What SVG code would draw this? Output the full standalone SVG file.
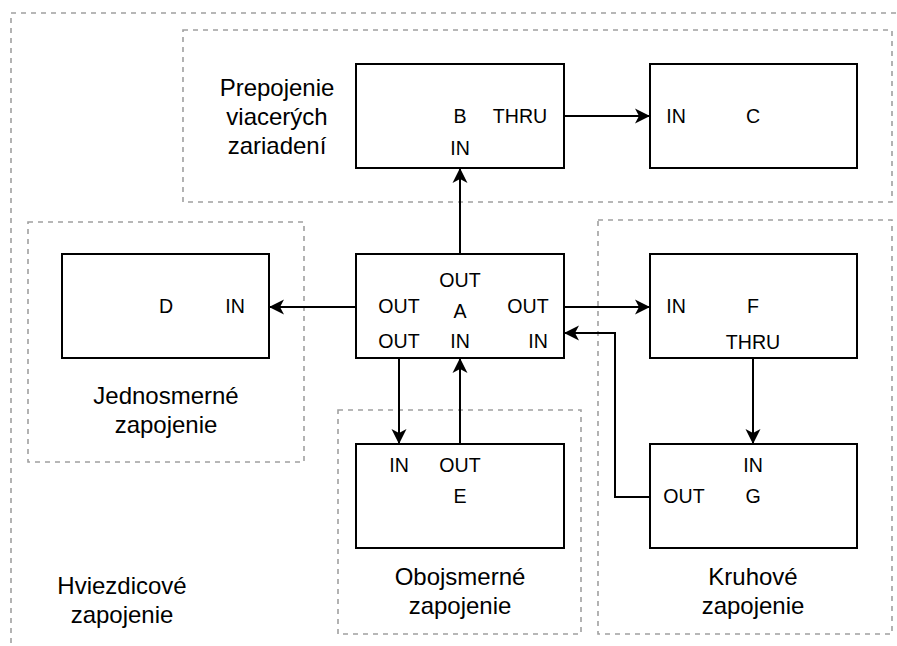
<svg xmlns="http://www.w3.org/2000/svg" width="897" height="646" viewBox="0 0 897 646">
<style>
.grp{fill:none;stroke:#a0a0a0;stroke-width:1.6;stroke-dasharray:5 5}
.node{fill:#fff;stroke:#000;stroke-width:2}
.t{font-family:"Liberation Sans",Arial,sans-serif;font-size:19.6px;fill:#000;text-anchor:middle}
.g{font-family:"Liberation Sans",Arial,sans-serif;font-size:24px;fill:#000;text-anchor:middle}
.c{fill:none;stroke:#000;stroke-width:2}
</style>
<defs>
<marker id="arr" markerUnits="userSpaceOnUse" markerWidth="16" markerHeight="16" viewBox="0 0 16 16" refX="15" refY="8" orient="auto">
<path d="M0,0.5 L15,8 L0,15.5 L4,8 Z" fill="#000"/>
</marker>
</defs>
<rect width="897" height="646" fill="#fff"/>
<g id="groups">
<rect id="grp-star" class="grp" x="11" y="13" width="900" height="650"/>
<rect id="grp-multi" class="grp" x="183" y="30" width="709" height="172"/>
<rect id="grp-uni" class="grp" x="28" y="222" width="276" height="240"/>
<rect id="grp-bi" class="grp" x="338" y="410" width="243" height="224"/>
<rect id="grp-ring" class="grp" x="598" y="220" width="294" height="414"/>
</g>
<g id="group-labels">
<text class="g" x="277" y="96">Prepojenie</text>
<text class="g" x="277" y="125">viacerých</text>
<text class="g" x="277" y="154">zariadení</text>
<text class="g" x="166" y="404">Jednosmerné</text>
<text class="g" x="166" y="433">zapojenie</text>
<text class="g" x="122" y="594">Hviezdicové</text>
<text class="g" x="122" y="623">zapojenie</text>
<text class="g" x="460" y="585">Obojsmerné</text>
<text class="g" x="460" y="614">zapojenie</text>
<text class="g" x="753" y="585">Kruhové</text>
<text class="g" x="753" y="614">zapojenie</text>
</g>
<g id="connectors">
<path class="c" d="M460,254 V168" marker-end="url(#arr)"/>
<path class="c" d="M564,116 H650" marker-end="url(#arr)"/>
<path class="c" d="M356,307 H269" marker-end="url(#arr)"/>
<path class="c" d="M564,307 H650" marker-end="url(#arr)"/>
<path class="c" d="M753,358 V444" marker-end="url(#arr)"/>
<path class="c" d="M650,497 H615 V333 H564" marker-end="url(#arr)"/>
<path class="c" d="M399,358 V444" marker-end="url(#arr)"/>
<path class="c" d="M460,444 V358" marker-end="url(#arr)"/>
</g>
<g id="node-B">
<rect class="node" x="356" y="64" width="208" height="104"/>
<text class="t" x="460" y="123">B</text>
<text class="t" x="520" y="123">THRU</text>
<text class="t" x="460" y="155">IN</text>
</g>
<g id="node-C">
<rect class="node" x="650" y="64" width="207" height="104"/>
<text class="t" x="676" y="123">IN</text>
<text class="t" x="753" y="123">C</text>
</g>
<g id="node-A">
<rect class="node" x="356" y="254" width="208" height="104"/>
<text class="t" x="460" y="287">OUT</text>
<text class="t" x="399" y="313">OUT</text>
<text class="t" x="460" y="318">A</text>
<text class="t" x="528" y="313">OUT</text>
<text class="t" x="399" y="348">OUT</text>
<text class="t" x="460" y="348">IN</text>
<text class="t" x="538" y="348">IN</text>
</g>
<g id="node-D">
<rect class="node" x="62" y="254" width="207" height="104"/>
<text class="t" x="166" y="313">D</text>
<text class="t" x="235" y="313">IN</text>
</g>
<g id="node-F">
<rect class="node" x="650" y="254" width="207" height="104"/>
<text class="t" x="676" y="313">IN</text>
<text class="t" x="753" y="313">F</text>
<text class="t" x="753" y="349">THRU</text>
</g>
<g id="node-E">
<rect class="node" x="356" y="444" width="208" height="104"/>
<text class="t" x="399" y="472">IN</text>
<text class="t" x="460" y="472">OUT</text>
<text class="t" x="460" y="503">E</text>
</g>
<g id="node-G">
<rect class="node" x="650" y="444" width="207" height="104"/>
<text class="t" x="753" y="472">IN</text>
<text class="t" x="684" y="503">OUT</text>
<text class="t" x="753" y="503">G</text>
</g>
</svg>
